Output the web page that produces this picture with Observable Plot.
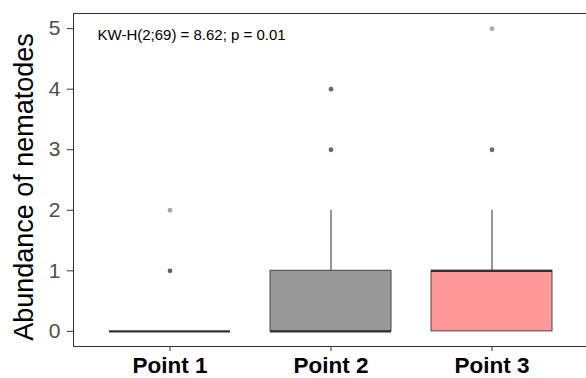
<!DOCTYPE html>
<html>
<head>
<meta charset="utf-8">
<script src="https://cdn.jsdelivr.net/npm/d3@7"></script>
<script src="https://cdn.jsdelivr.net/npm/@observablehq/plot@0.6"></script>
<style>
  html, body { margin: 0; padding: 0; background: #fff; }
  svg { display: block; }
</style>
</head>
<body>
<div id="chart"></div>
<script>
// ---- data ----
const categories = ["Point 1", "Point 2", "Point 3"];
const q1 = [0, 0, 0];
const medians = [0, 0, 1];
const q3 = [0, 1, 1];
const whiskerLow = [0, 0, 0];
const whiskerHigh = [0, 2, 2];
const outlierGroup = ["Point 1", "Point 1", "Point 2", "Point 2", "Point 3", "Point 3"];
const outlierValue = [1, 2, 3, 4, 3, 5];
const outlierCount = [4, 1, 3, 3, 3, 1];
const yTicks = [0, 1, 2, 3, 4, 5];
const annotation = "KW-H(2;69) = 8.62; p = 0.01";
const yLabel = "Abundance of nematodes";
const boxColors = ["#FFFFFF", "#999999", "#FF9999"];

const boxes = categories.map((c, i) => ({
  group: c, q1: q1[i], median: medians[i], q3: q3[i], lo: whiskerLow[i], hi: whiskerHigh[i]
}));
const outliers = outlierGroup.map((g, i) => ({group: g, value: outlierValue[i], n: outlierCount[i]}));

const W = 586, H = 378;
const chart = Plot.plot({
  width: W,
  height: H,
  marginLeft: 73,
  marginRight: -2,
  marginTop: 13,
  marginBottom: 32,
  style: {fontFamily: "Liberation Sans, Arial, sans-serif", background: "#fff"},
  x: {
    domain: categories,
    range: [72.4, 587.6],
    paddingInner: 0.25,
    paddingOuter: 0.225,
    axis: null
  },
  y: {domain: [-0.25, 5.25], axis: null},
  color: {domain: categories, range: boxColors},
  marks: [
    // whiskers
    Plot.ruleX(boxes, {x: "group", y1: "q3", y2: "hi", stroke: "#333", strokeWidth: 1}),
    Plot.ruleX(boxes, {x: "group", y1: "lo", y2: "q1", stroke: "#333", strokeWidth: 1}),
    // boxes
    Plot.barY(boxes, {x: "group", y1: "q1", y2: "q3", fill: "group", stroke: "#333", strokeOpacity: 0.8, strokeWidth: 1.1}),
    // medians
    Plot.tickY(boxes, {x: "group", y: "median", stroke: "#333", strokeWidth: 2.2}),
    // outliers
    Plot.dot(outliers, {x: "group", y: "value", r: 2.4, fill: "#555", fillOpacity: d => 1 - Math.pow(0.5, d.n), stroke: "none"}),
    // frame (right side falls outside the picture)
    Plot.frame({stroke: "#333", strokeWidth: 1}),
    // y axis
    Plot.axisY(yTicks, {tickSize: 6, tickPadding: 7, tickFormat: d3.format("d"), fontSize: 21, fill: "#4D4D4D", stroke: "#333", label: null}),
    // x axis
    Plot.axisX(categories, {tickSize: 5, tickPadding: 6, fontSize: 22.5, fontWeight: "bold", fill: "#000", stroke: "#333", label: null}),
    // annotation
    Plot.text([annotation], {frameAnchor: "top-left", dx: 24, dy: 22, text: d => d, fontSize: 15, textAnchor: "start", lineAnchor: "middle", fill: "#000"})
  ]
});

// y axis title
const svg = d3.select(chart);
svg.append("text")
  .attr("transform", `translate(33, 187) rotate(-90)`)
  .attr("text-anchor", "middle")
  .attr("font-family", "Liberation Sans, Arial, sans-serif")
  .attr("font-size", 27)
  .attr("fill", "#000")
  .text(yLabel);

document.getElementById("chart").appendChild(chart);
</script>
</body>
</html>
